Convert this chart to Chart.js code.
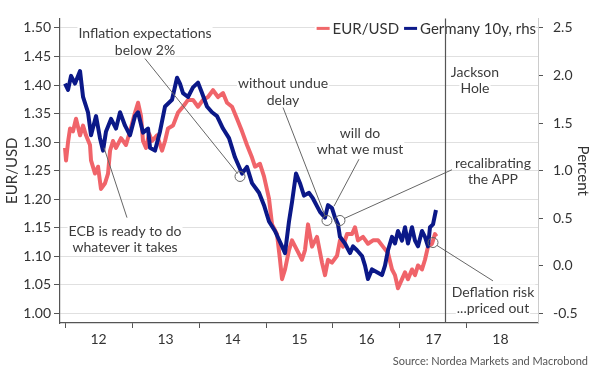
<!DOCTYPE html>
<html><head><meta charset="utf-8">
<script src="https://cdn.jsdelivr.net/npm/chart.js@4"></script>
<style>html,body{margin:0;padding:0;background:#fff}canvas{display:block}</style>
</head><body>
<canvas id="c" width="600" height="376" style="width:600px;height:376px"></canvas>
<script>
// ---- data (decimal years) ----
const eurDates = [2012.000,2012.015,2012.045,2012.075,2012.119,2012.164,2012.224,2012.269,2012.313,2012.373,2012.388,2012.448,2012.493,2012.537,2012.597,2012.642,2012.672,2012.716,2012.761,2012.836,2012.910,2012.970,2013.045,2013.090,2013.134,2013.164,2013.209,2013.254,2013.299,2013.373,2013.448,2013.493,2013.537,2013.612,2013.687,2013.761,2013.836,2013.910,2013.985,2014.060,2014.134,2014.209,2014.284,2014.358,2014.418,2014.493,2014.567,2014.642,2014.716,2014.791,2014.836,2014.910,2014.970,2015.045,2015.090,2015.164,2015.209,2015.239,2015.284,2015.343,2015.388,2015.463,2015.537,2015.582,2015.627,2015.687,2015.761,2015.836,2015.881,2015.925,2015.985,2016.060,2016.104,2016.149,2016.209,2016.284,2016.328,2016.373,2016.448,2016.522,2016.597,2016.672,2016.746,2016.821,2016.881,2016.925,2016.970,2017.030,2017.075,2017.119,2017.179,2017.224,2017.269,2017.328,2017.373,2017.418,2017.478,2017.522,2017.545];
const eurusd = [1.290,1.268,1.300,1.324,1.319,1.341,1.312,1.329,1.312,1.295,1.268,1.245,1.257,1.218,1.228,1.245,1.285,1.302,1.290,1.307,1.295,1.319,1.352,1.369,1.346,1.302,1.290,1.315,1.302,1.312,1.285,1.302,1.324,1.329,1.352,1.362,1.374,1.374,1.362,1.374,1.379,1.391,1.379,1.386,1.369,1.362,1.341,1.319,1.295,1.273,1.257,1.262,1.240,1.201,1.156,1.139,1.094,1.060,1.077,1.111,1.128,1.111,1.094,1.111,1.156,1.117,1.134,1.089,1.067,1.094,1.089,1.101,1.128,1.117,1.139,1.139,1.151,1.128,1.134,1.122,1.128,1.128,1.117,1.106,1.077,1.067,1.044,1.060,1.072,1.060,1.077,1.067,1.084,1.077,1.094,1.117,1.122,1.139,1.135];

const bundDates = [2012.000,2012.045,2012.090,2012.149,2012.224,2012.269,2012.343,2012.388,2012.463,2012.522,2012.567,2012.612,2012.687,2012.761,2012.821,2012.896,2012.970,2013.045,2013.090,2013.164,2013.239,2013.269,2013.343,2013.418,2013.493,2013.597,2013.672,2013.716,2013.761,2013.836,2013.910,2013.985,2014.045,2014.119,2014.194,2014.269,2014.358,2014.448,2014.537,2014.642,2014.716,2014.791,2014.896,2014.970,2015.045,2015.134,2015.239,2015.284,2015.343,2015.388,2015.448,2015.507,2015.567,2015.642,2015.701,2015.806,2015.881,2015.925,2015.985,2016.030,2016.075,2016.104,2016.179,2016.254,2016.299,2016.358,2016.433,2016.478,2016.522,2016.582,2016.657,2016.731,2016.776,2016.821,2016.881,2016.925,2016.970,2017.030,2017.075,2017.119,2017.179,2017.224,2017.269,2017.328,2017.373,2017.418,2017.448,2017.493,2017.537];
const bund = [1.916,1.850,1.997,1.916,2.047,1.775,1.614,1.373,1.574,1.342,1.211,1.413,1.544,1.443,1.614,1.473,1.373,1.574,1.614,1.400,1.443,1.242,1.211,1.413,1.675,1.745,1.977,1.916,1.816,1.775,1.876,1.926,1.816,1.675,1.614,1.574,1.443,1.342,1.141,0.970,1.040,0.869,0.768,0.638,0.466,0.366,0.205,0.134,0.466,0.668,0.970,0.869,0.738,0.768,0.708,0.567,0.507,0.638,0.607,0.507,0.436,0.305,0.235,0.134,0.205,0.164,0.104,0.003,-0.138,-0.037,-0.067,-0.097,0.003,0.164,0.305,0.235,0.366,0.265,0.406,0.235,0.406,0.265,0.205,0.366,0.305,0.205,0.406,0.436,0.587];

const yearTicks = [2012,2013,2014,2015,2016,2017,2018];
const leftTicks = [1.00,1.05,1.10,1.15,1.20,1.25,1.30,1.35,1.40,1.45,1.50];
const rightTicks = [-0.5,0.0,0.5,1.0,1.5,2.0,2.5];
const jacksonHole = 2017.672;

// annotation anchors in data units (year, EUR/USD scale)
const annotations = [
  {lines:['Inflation expectations','below 2%'], at:[2013.194,1.4916], leader:[[2013.194,1.4463],[2014.575,1.2450]], circle:[2014.612,1.2399]},
  {lines:['ECB is ready to do','whatever it takes'], at:[2012.896,1.1460], leader:[[2012.925,1.1678],[2012.582,1.2903]]},
  {lines:['without undue','delay'], at:[2015.254,1.4044], leader:[[2015.254,1.3607],[2015.881,1.1711]], circle:[2015.910,1.1628]},
  {lines:['will do','what we must'], at:[2016.403,1.3171], leader:[[2016.388,1.2701],[2016.015,1.1879]]},
  {lines:['recalibrating','the APP'], at:[2018.388,1.2651], leader:[[2017.776,1.2517],[2016.164,1.1661]], circle:[2016.104,1.1628]},
  {lines:['Jackson','Hole'], at:[2018.119,1.4245]},
  {lines:['Deflation risk','...priced out'], at:[2018.388,1.0386], leader:[[2018.388,1.0570],[2017.552,1.1191]], circle:[2017.493,1.1242]}
];
const sourceText = 'Source: Nordea Markets and Macrobond';

const FONT = 'Lato, "Open Sans", sans-serif';
Chart.defaults.font.family = FONT;
Chart.defaults.color = '#333';

const overlay = {
  id: 'overlay',
  afterDatasetsDraw(chart) {
    const {ctx, chartArea: a} = chart;
    const x = chart.scales.x, y = chart.scales.y;
    ctx.save();
    // legend
    ctx.font = '15px ' + FONT;
    ctx.textBaseline = 'middle';
    ctx.textAlign = 'left';
    const ly = a.top + 10;
    const t1 = 'EUR/USD', t2 = 'Germany 10y, rhs';
    const w1 = ctx.measureText(t1).width, w2 = ctx.measureText(t2).width;
    const xr = a.right - 2;
    const tx2 = xr - w2, sw2 = tx2 - 3 - 13, tx1 = sw2 - 5 - w1, sw1 = tx1 - 3 - 13;
    ctx.fillStyle = '#fff';
    ctx.fillRect(sw1 - 2, ly - 9, xr - sw1 + 2, 18);
    ctx.fillStyle = '#f0686a'; ctx.fillRect(sw1, ly - 1.5, 13, 3);
    ctx.fillStyle = '#0d1a8a'; ctx.fillRect(sw2, ly - 1.5, 13, 3);
    ctx.fillStyle = '#333';
    ctx.fillText(t1, tx1, ly + 1);
    ctx.fillText(t2, tx2, ly + 1);

    // annotations
    ctx.font = '14px ' + FONT;
    ctx.textAlign = 'center';
    ctx.strokeStyle = '#666';
    ctx.lineWidth = 1;
    annotations.forEach(an => {
      if (an.leader) {
        ctx.beginPath();
        ctx.moveTo(x.getPixelForValue(an.leader[0][0]), y.getPixelForValue(an.leader[0][1]));
        ctx.lineTo(x.getPixelForValue(an.leader[1][0]), y.getPixelForValue(an.leader[1][1]));
        ctx.stroke();
      }
      if (an.circle) {
        ctx.beginPath();
        ctx.arc(x.getPixelForValue(an.circle[0]), y.getPixelForValue(an.circle[1]), 5, 0, Math.PI * 2);
        ctx.stroke();
      }
      const px = x.getPixelForValue(an.at[0]);
      const py = y.getPixelForValue(an.at[1]);
      an.lines.forEach((t, i) => {
        const w = ctx.measureText(t).width;
        const yy = py + i * 16.5;
        ctx.fillStyle = '#fff';
        ctx.fillRect(px - w / 2 - 1, yy - 7, w + 2, 14);
        ctx.fillStyle = '#3c3c3c';
        ctx.fillText(t, px, yy + 1);
      });
    });

    // Jackson Hole vertical line
    const jx = Math.round(x.getPixelForValue(jacksonHole)) + 0.5;
    ctx.strokeStyle = '#555';
    ctx.lineWidth = 1.2;
    ctx.beginPath();
    ctx.moveTo(jx, a.top);
    ctx.lineTo(jx, a.bottom);
    ctx.stroke();
    ctx.restore();
  },
  afterDraw(chart) {
    const ctx = chart.ctx;
    ctx.save();
    ctx.font = '11px ' + FONT;
    ctx.fillStyle = '#555';
    ctx.textAlign = 'right';
    ctx.textBaseline = 'middle';
    ctx.fillText(sourceText, 588, 361);
    ctx.restore();
  }
};

new Chart(document.getElementById('c'), {
  type: 'line',
  data: {
    datasets: [
      {label: 'EUR/USD', data: eurDates.map((d, i) => ({x: d, y: eurusd[i]})), xAxisID: 'x', yAxisID: 'y',
       borderColor: '#f0646a', borderWidth: 4, pointRadius: 0, tension: 0, borderJoinStyle: 'round', order: 2},
      {label: 'Germany 10y, rhs', data: bundDates.map((d, i) => ({x: d, y: bund[i]})), xAxisID: 'x', yAxisID: 'y2',
       borderColor: '#0b1888', borderWidth: 4, pointRadius: 0, tension: 0, borderJoinStyle: 'round', order: 1}
    ]
  },
  options: {
    responsive: false,
    animation: false,
    devicePixelRatio: 1,
    layout: {padding: {top: 5, left: 0, right: 0, bottom: 0}},
    plugins: {legend: {display: false}, tooltip: {enabled: false}},
    scales: {
      x: {
        type: 'linear', position: 'bottom', min: 2011.925, max: 2019.06,
        afterBuildTicks: s => { s.ticks = yearTicks.map(v => ({value: v})); },
        afterFit: s => { s.height = 53; },
        ticks: {callback: v => String(Math.round(v) - 2000), labelOffset: 33.5, autoSkip: false, maxRotation: 0,
                font: {size: 14}, color: '#333', padding: 3},
        grid: {display: true, drawOnChartArea: false, drawTicks: true, tickLength: 5, tickColor: '#555'},
        border: {display: true, color: '#555', width: 1.2}
      },
      y: {
        type: 'linear', position: 'left', min: 0.98322, max: 1.51678,
        afterBuildTicks: s => { s.ticks = leftTicks.map(v => ({value: v})); },
        afterFit: s => { s.width = 60; },
        ticks: {callback: v => v.toFixed(2), font: {size: 14}, color: '#333', padding: 3},
        grid: {color: '#e0e0e0', lineWidth: 1, tickColor: '#555', tickLength: 6},
        border: {display: true, color: '#555', width: 1.2},
        title: {display: true, text: 'EUR/USD', font: {size: 15}, color: '#333', padding: {top: 3, bottom: 0}}
      },
      y2: {
        type: 'linear', position: 'right', min: -0.6007, max: 2.6007,
        afterBuildTicks: s => { s.ticks = rightTicks.map(v => ({value: v})); },
        afterFit: s => { s.width = 62; },
        ticks: {callback: v => v.toFixed(1), font: {size: 14}, color: '#333', padding: 10},
        grid: {drawOnChartArea: false, drawTicks: true, tickLength: 5, tickColor: '#555'},
        border: {display: true, color: '#ccc', width: 1},
        title: {display: true, text: 'Percent', font: {size: 15}, color: '#333', padding: {top: 8, bottom: 0}}
      }
    }
  },
  plugins: [overlay]
});
</script>
</body></html>
